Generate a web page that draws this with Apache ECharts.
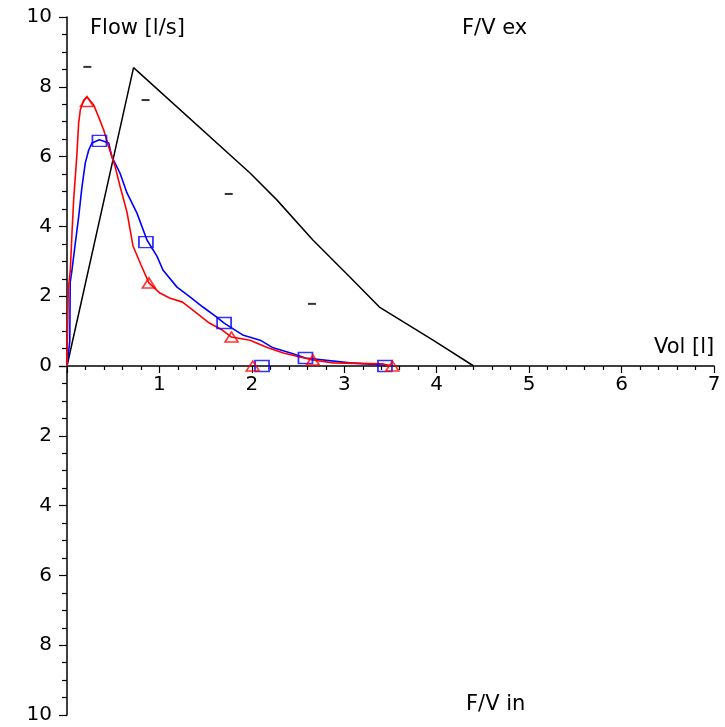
<!DOCTYPE html>
<html>
<head>
<meta charset="utf-8">
<script src="https://cdn.jsdelivr.net/npm/echarts@6/dist/echarts.min.js"></script>
<style>html,body{margin:0;padding:0;background:#fff}#c{width:725px;height:727px}</style>
</head>
<body>
<div id="c"></div>
<script>
// Predicted expiratory flow-volume curve (black)
const predVol  = [0, 0.72, 1.98, 2.27, 2.66, 3.06, 3.38, 3.96, 4.40];
const predFlow = [0, 8.55, 5.53, 4.76, 3.61, 2.55, 1.69, 0.74, 0.0];
// Predicted marker dashes
const dashVol  = [0.22, 0.85, 1.75, 2.65];
const dashFlow = [8.57, 7.62, 4.93, 1.78];
// Red curve
const redVol  = [0, 0.014, 0.036, 0.054, 0.072, 0.090, 0.108, 0.126, 0.144, 0.181, 0.216, 0.289, 0.343, 0.397, 0.451, 0.522, 0.576, 0.649, 0.714, 0.80, 0.886, 1.005, 1.11, 1.25, 1.40, 1.54, 1.68, 1.78, 1.98, 2.16, 2.34, 2.52, 2.66, 2.88, 3.42, 3.52];
const redFlow = [0, 2.20, 2.75, 3.81, 4.76, 5.42, 6.10, 6.96, 7.34, 7.62, 7.71, 7.48, 7.13, 6.76, 6.28, 5.70, 5.13, 4.41, 3.44, 2.90, 2.38, 2.09, 1.95, 1.83, 1.52, 1.23, 1.03, 0.83, 0.74, 0.54, 0.37, 0.26, 0.17, 0.09, 0.06, 0.0];
const redMarkVol  = [0.216, 0.886, 1.78, 2.66, 3.52, 2.01];
const redMarkFlow = [7.58, 2.38, 0.83, 0.17, 0.0, 0.0];
// Blue curve
const blueVol  = [0, 0.03, 0.035, 0.054, 0.090, 0.126, 0.162, 0.198, 0.235, 0.270, 0.351, 0.451, 0.486, 0.541, 0.573, 0.649, 0.757, 0.865, 0.973, 1.038, 1.19, 1.33, 1.47, 1.62, 1.70, 1.90, 2.09, 2.23, 2.42, 2.58, 3.06, 3.42, 3.44];
const blueFlow = [0, 0.70, 2.40, 2.75, 3.52, 4.27, 5.13, 5.82, 6.19, 6.39, 6.48, 6.39, 5.99, 5.70, 5.53, 4.96, 4.38, 3.61, 3.15, 2.75, 2.26, 1.98, 1.69, 1.40, 1.23, 0.89, 0.74, 0.52, 0.37, 0.23, 0.09, 0.03, 0.0];
const blueMarkVol  = [0.351, 0.854, 1.70, 2.58, 3.44, 2.11];
const blueMarkFlow = [6.45, 3.55, 1.23, 0.23, 0.0, 0.0];
// Axis ranges
const volMax = 7, flowMax = 10;

const zip = (a, b) => a.map((v, i) => [v, b[i]]);
const FONT = 'DejaVu Sans';
const FS = 20;
const black = {color: '#000', width: 1.5};
const tickStyle = {color: '#000', width: 1.2};

const chart = echarts.init(document.getElementById('c'), null, {renderer: 'canvas'});
chart.setOption({
  animation: false,
  backgroundColor: '#fff',
  grid: [
    {left: 67, right: 11, top: 17, height: 349, containLabel: false, outerBoundsMode: 'none'},
    {left: 67, right: 11, top: 366, height: 349, containLabel: false, outerBoundsMode: 'none'}
  ],
  xAxis: [
    {gridIndex: 0, type: 'value', min: 0, max: volMax, interval: 1, position: 'bottom',
     axisLine: {onZero: false, lineStyle: black},
     axisTick: {show: true, length: 7, lineStyle: tickStyle},
     minorTick: {show: true, splitNumber: 5, length: 4, lineStyle: tickStyle},
     axisLabel: {margin: 9, color: '#000', fontFamily: FONT, fontSize: FS,
       formatter: v => v === 0 ? '' : String(v)},
     splitLine: {show: false}},
    {gridIndex: 1, type: 'value', min: 0, max: volMax, show: false}
  ],
  yAxis: [
    {gridIndex: 0, type: 'value', min: 0, max: flowMax, interval: 2,
     axisLine: {show: true, onZero: false, lineStyle: black},
     axisTick: {show: true, length: 8, lineStyle: tickStyle},
     minorTick: {show: true, splitNumber: 4, length: 5, lineStyle: tickStyle},
     axisLabel: {margin: 15, color: '#000', fontFamily: FONT, fontSize: FS},
     splitLine: {show: false}},
    {gridIndex: 1, type: 'value', min: 0, max: flowMax, interval: 2, inverse: true,
     axisLine: {show: true, onZero: false, lineStyle: black},
     axisTick: {show: true, length: 8, lineStyle: tickStyle},
     minorTick: {show: true, splitNumber: 4, length: 5, lineStyle: tickStyle},
     axisLabel: {margin: 15, color: '#000', fontFamily: FONT, fontSize: FS,
       formatter: v => v === 0 ? '' : String(v)},
     splitLine: {show: false}}
  ],
  graphic: [
    {type: 'text', left: 90, top: 18, style: {text: 'Flow [l/s]', font: '21px "DejaVu Sans"', fill: '#000'}},
    {type: 'text', left: 462, top: 18, style: {text: 'F/V ex', font: '21px "DejaVu Sans"', fill: '#000'}},
    {type: 'text', left: 654, top: 337, style: {text: 'Vol [l]', font: '21px "DejaVu Sans"', fill: '#000'}},
    {type: 'text', left: 466, top: 694, style: {text: 'F/V in', font: '21px "DejaVu Sans"', fill: '#000'}}
  ],
  series: [
    {type: 'scatter', xAxisIndex: 1, yAxisIndex: 1, data: [], silent: true},
    {type: 'line', data: zip(predVol, predFlow), showSymbol: false, symbol: 'none',
     lineStyle: {color: '#000', width: 1.5}, z: 2},
    {type: 'scatter', data: zip(dashVol, dashFlow), symbol: 'rect', symbolSize: [8, 2],
     itemStyle: {color: '#000'}, z: 2},
    {type: 'line', data: zip(blueVol, blueFlow), showSymbol: false, symbol: 'none',
     lineStyle: {color: '#0000ff', width: 1.6}, z: 3},
    {type: 'line', data: zip(redVol, redFlow), showSymbol: false, symbol: 'none',
     lineStyle: {color: '#ff0000', width: 1.6}, z: 4},
    {type: 'scatter', data: zip(blueMarkVol, blueMarkFlow), symbol: 'rect', symbolSize: [14, 11],
     itemStyle: {color: 'rgba(0,0,0,0)', borderColor: '#0000ff', borderWidth: 1.6}, z: 5},
    {type: 'scatter', data: zip(redMarkVol, redMarkFlow), symbol: 'triangle', symbolSize: [13, 10],
     itemStyle: {color: 'rgba(0,0,0,0)', borderColor: '#ff0000', borderWidth: 1.6}, z: 6}
  ]
});
</script>
</body>
</html>
